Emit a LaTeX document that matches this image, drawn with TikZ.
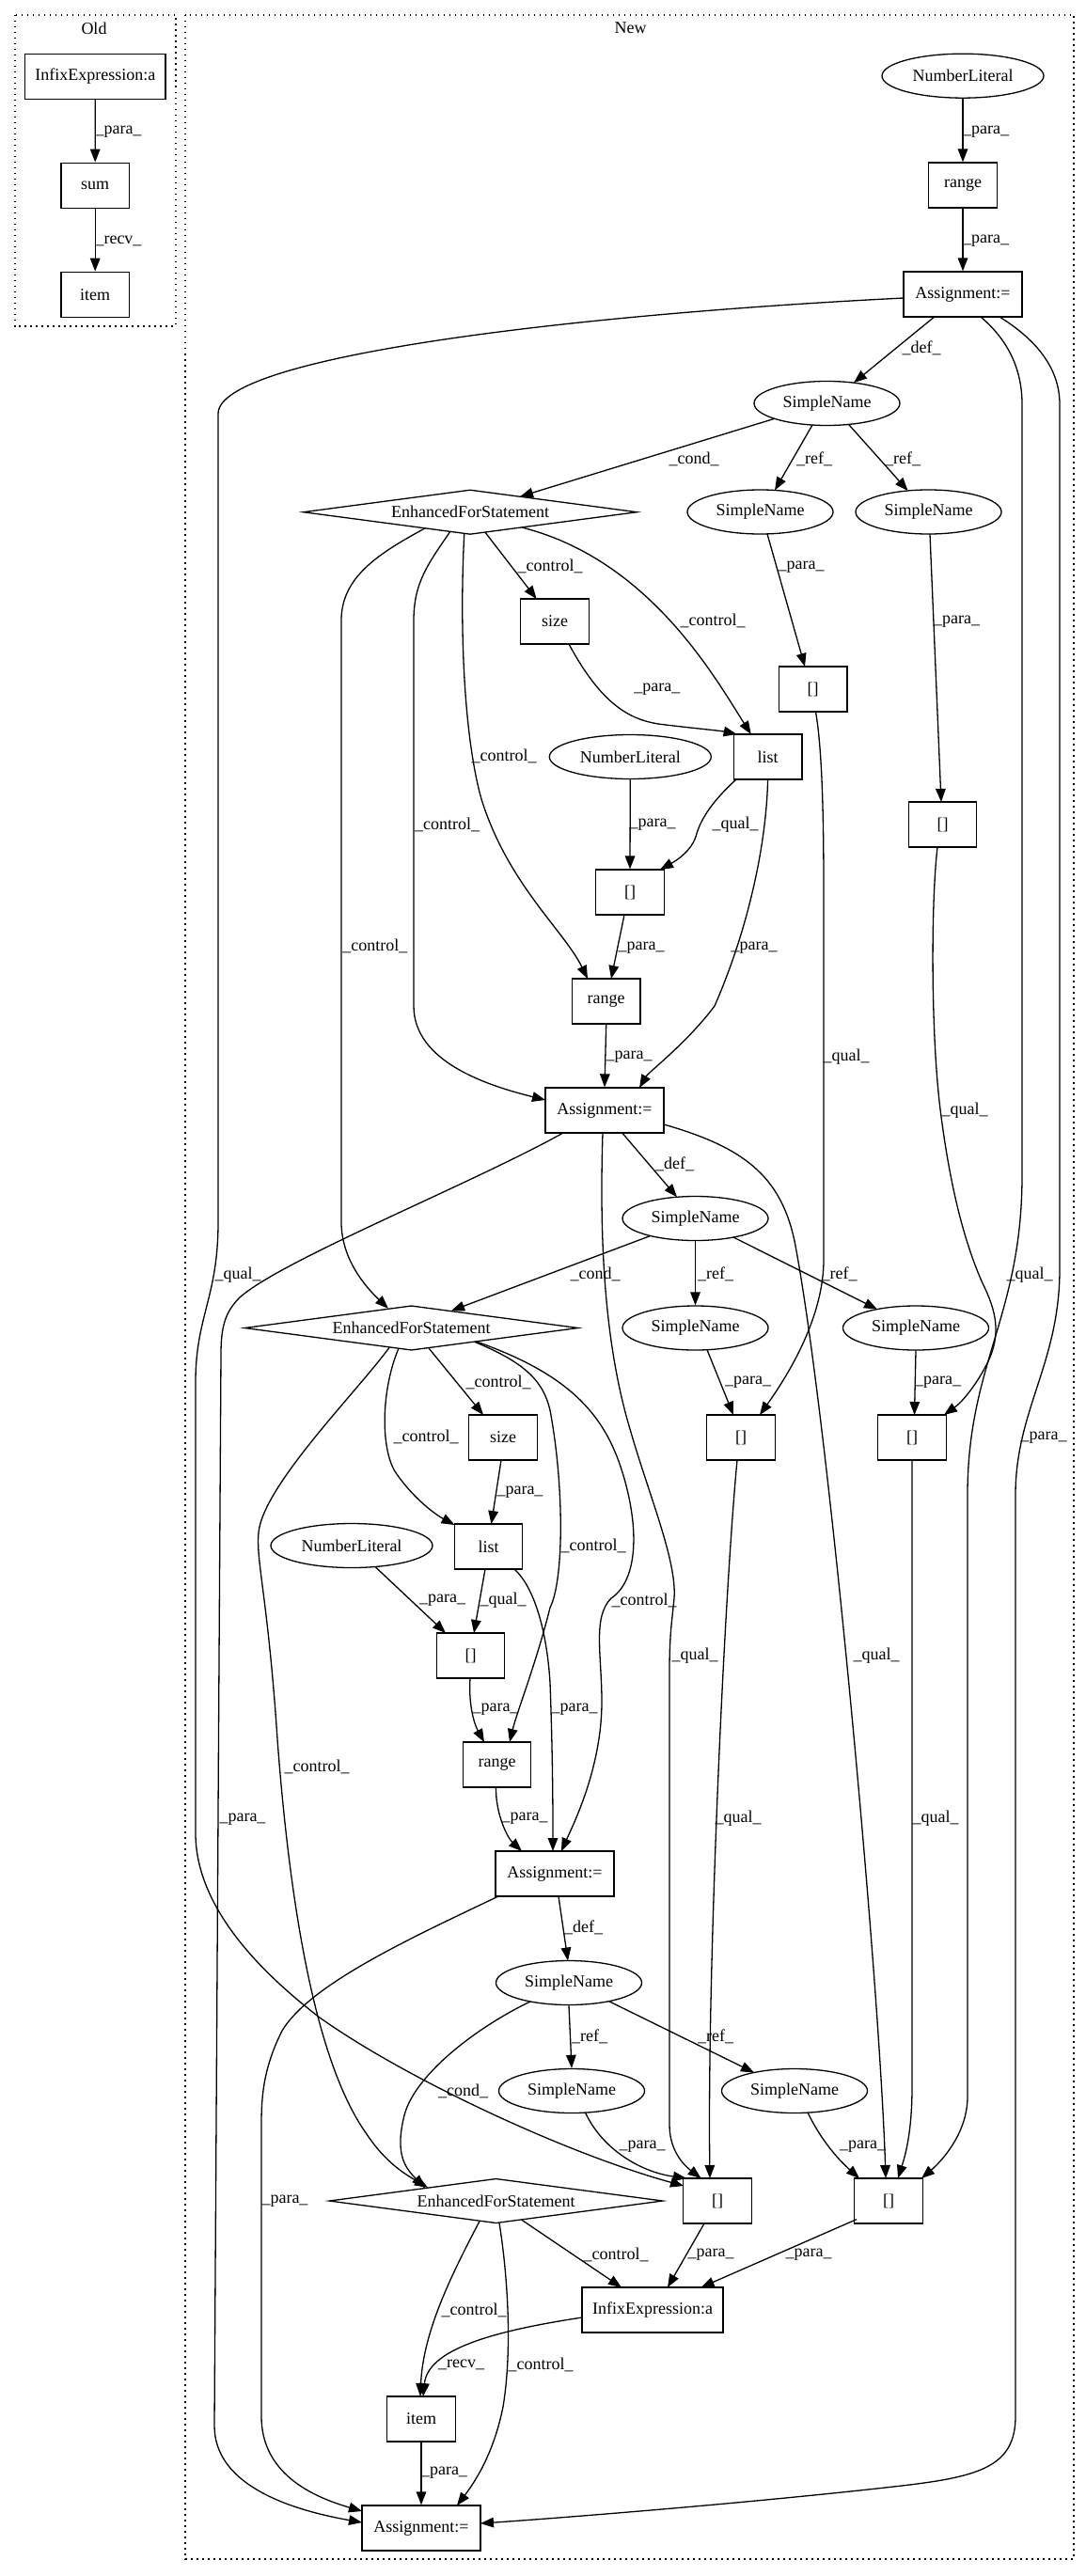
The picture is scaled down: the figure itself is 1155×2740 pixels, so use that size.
\documentclass[tikz,border=0pt]{standalone}
\usepackage{fontspec}
\setmainfont{Liberation Serif}
\usetikzlibrary{arrows.meta,shapes.geometric}
\begin{document}
\begin{tikzpicture}[x=0.5pt,y=-0.5pt,
  box/.style={draw, rectangle, line width=0.65pt, minimum width=36.25pt, minimum height=24pt, inner sep=0pt, font=\fontsize{9}{10}\selectfont},
  wbox/.style={box, minimum width=63pt},
  ell/.style={draw, ellipse, line width=0.65pt, minimum width=77.5pt, minimum height=23.5pt, inner sep=0pt, font=\fontsize{9}{10}\selectfont},
  nlit/.style={ell, minimum width=86pt},
  dia/.style={draw, diamond, line width=0.65pt, shape aspect=7.5, minimum width=177.5pt, minimum height=23.75pt, inner sep=0pt, font=\fontsize{9}{10}\selectfont},
  e/.style={draw, line width=0.65pt, -{Triangle[length=7pt,width=5.3pt]}},
  lab/.style={inner sep=0pt, font=\fontsize{9}{10}\selectfont},
  clus/.style={draw, line width=0.9pt, dash pattern=on 0.9pt off 2.1pt}]
\useasboundingbox (0,0) rectangle (1155,2740);
\fill[white] (0,0) rectangle (1155,2740);
% clusters
\draw[clus] (15.7,15.7) rectangle (186.7,347);
\node[lab] (told) at (100,30) {Old};
\draw[clus] (197.3,15.7) rectangle (1142,2722);
\node[lab] (tnew) at (670.6,30) {New};
% Old nodes
\node[box, minimum width=74.6pt] (OIX) at (101.3,81.2) {InfixExpression:a};
\node[box] (OSUM) at (101.2,197.2) {sum};
\node[box] (OIT) at (101.2,313.3) {item};
% New nodes
\node[nlit] (NL1) at (1024,80.7) {NumberLiteral};
\node[box] (R1) at (1024,197) {range};
\node[wbox] (A1) at (1024,313) {Assignment:=};
\node[ell] (SN1) at (879.5,429) {SimpleName};
\node[dia] (EFS1) at (500,544.7) {EnhancedForStatement};
\node[ell] (SN2) at (808.5,544.5) {SimpleName};
\node[ell] (SN3) at (987.5,544.5) {SimpleName};
\node[box] (SZ1) at (590,661) {size};
\node[box] (BA) at (864.7,733) {[]};
\node[box] (L1) at (816.6,805) {list};
\node[nlit] (NL2) at (670.3,805) {NumberLiteral};
\node[box] (BB) at (1002.5,877) {[]};
\node[box] (BC) at (670,949) {[]};
\node[box] (R2) at (644.7,1065) {range};
\node[wbox] (A2) at (643,1181) {Assignment:=};
\node[ell] (SN4) at (739.5,1296) {SimpleName};
\node[dia] (EFS2) at (437.5,1412.5) {EnhancedForStatement};
\node[ell] (SN5) at (739.5,1412.5) {SimpleName};
\node[ell] (SN6) at (974,1412.5) {SimpleName};
\node[box] (SZ2) at (535,1529) {size};
\node[box] (BD) at (788,1529) {[]};
\node[box] (BE) at (970,1529) {[]};
\node[box] (L2) at (519.5,1645) {list};
\node[nlit] (NL3) at (374,1644) {NumberLiteral};
\node[box] (BF) at (500.5,1761) {[]};
\node[box] (R3) at (528.5,1877) {range};
\node[wbox] (A3) at (590,1993) {Assignment:=};
\node[ell] (SN7) at (605,2109) {SimpleName};
\node[ell] (SN8) at (608,2224) {SimpleName};
\node[ell] (SN9) at (845,2224) {SimpleName};
\node[dia] (EFS3) at (527.5,2341) {EnhancedForStatement};
\node[box] (BG) at (763,2341) {[]};
\node[box] (BH) at (945,2341) {[]};
\node[box, minimum width=75pt] (IX) at (694,2457) {InfixExpression:a};
\node[box] (IT) at (448,2573) {item};
\node[wbox] (A4) at (448,2689) {Assignment:=};
% Old edges
\draw[e] (OIX.south) -- (OSUM.north);
\draw[e] (OSUM.south) -- (OIT.north);
\node[lab] (l1) at (126,140) {\_para\_};
\node[lab] (l2) at (126,256) {\_recv\_};
% New edges
\draw[e] (NL1.south) -- (R1.north);
\draw[e] (R1.south) -- (A1.north);
\draw[e] ([shift={(-30.25,24)}]A1.center) -- ([shift={(28.5,-21.9)}]SN1.center);
\draw[e] ([shift={(-63,4)}]A1.center) .. controls (600,335) and (232,380) .. (232,440) -- (232,1300) .. controls (232,1380) and (208,1400) .. (208,1470) -- (208,1950) .. controls (208,2030) and (280,2100) .. (340,2146) .. controls (430,2210) and (600,2290) .. ([shift={(-36,-16)}]BG.center);
\draw[e] ([shift={(19,24)}]A1.center) .. controls (1070,360) and (1087,390) .. (1087,430) -- (1087,1250) .. controls (1087,1400) and (1029,1450) .. (1029,1590) -- (1029,2230) .. controls (1029,2270) and (1000,2300) .. ([shift={(35,-24)}]BH.center);
\draw[e] ([shift={(39,24)}]A1.center) .. controls (1100,360) and (1127,390) .. (1127,430) -- (1127,1350) .. controls (1127,1450) and (1080,1500) .. (1080,1590) -- (1080,2570) .. controls (1080,2625) and (1040,2635) .. (950,2645) .. controls (800,2662) and (600,2678) .. ([shift={(63,-5)}]A4.center);
\draw[e] ([shift={(-55.75,16.3)}]SN1.center) -- ([shift={(53,-16.5)}]EFS1.center);
\draw[e] ([shift={(-15.5,23)}]SN1.center) -- ([shift={(15.5,-23)}]SN2.center);
\draw[e] ([shift={(23,22.4)}]SN1.center) -- ([shift={(-21.9,-22.5)}]SN3.center);
\draw[e] ([shift={(7.5,23.4)}]SN2.center) -- ([shift={(-8.7,-24)}]BA.center);
\draw[e] ([shift={(1.5,23.5)}]SN3.center) -- ([shift={(-1.5,-24)}]BB.center);
\draw[e] ([shift={(16,21.5)}]EFS1.center) -- ([shift={(-19.4,-24)}]SZ1.center);
\draw[e] ([shift={(55,16.3)}]EFS1.center) .. controls (690,595) and (760,720) .. ([shift={(-17.85,-24)}]L1.center);
\draw[e] ([shift={(-6.25,22.8)}]EFS1.center) .. controls (488,680) and (495,790) .. (512,850) .. controls (540,940) and (600,990) .. ([shift={(-19.7,-24)}]R2.center);
\draw[e] ([shift={(-21.25,20.8)}]EFS1.center) .. controls (455,600) and (440,620) .. (440,660) -- (440,1070) .. controls (440,1130) and (520,1155) .. ([shift={(-63,-11)}]A2.center);
\draw[e] ([shift={(-48,17.2)}]EFS1.center) .. controls (400,590) and (363,615) .. (363,660) -- (363,1300) .. controls (363,1340) and (390,1370) .. ([shift={(-24.5,-20.7)}]EFS2.center);
\draw[e] ([shift={(15,24)}]SZ1.center) .. controls (640,750) and (670,765) .. (700,770) .. controls (740,775) and (765,777) .. ([shift={(-33,-24)}]L1.center);
\draw[e] (NL2.south) -- (BC.north);
\draw[e] ([shift={(-33.6,24)}]L1.center) .. controls (760,850) and (745,870) .. (740,890) .. controls (735,905) and (720,915) .. ([shift={(32,-24)}]BC.center);
\draw[e] ([shift={(0,24)}]L1.center) .. controls (815,900) and (795,990) .. (760,1070) .. controls (730,1110) and (690,1140) .. ([shift={(37,-24)}]A2.center);
\draw[e] ([shift={(-6,24)}]BC.center) -- ([shift={(5.3,-24)}]R2.center);
\draw[e] (R2.south) -- (A2.north);
\draw[e] ([shift={(2.8,24)}]BA.center) .. controls (875,800) and (876,880) .. (876,950) -- (876,1340) .. controls (876,1400) and (840,1460) .. ([shift={(20,-24)}]BD.center);
\draw[e] ([shift={(-5.5,24)}]BB.center) .. controls (990,960) and (990,1100) .. (1000,1180) .. controls (1010,1260) and (1025,1320) .. (1045,1365) .. controls (1060,1395) and (1065,1420) .. (1050,1450) .. controls (1040,1470) and (1025,1490) .. ([shift={(34,-24)}]BE.center);
\draw[e] ([shift={(18.7,24)}]A2.center) -- ([shift={(-19.5,-22.7)}]SN4.center);
\draw[e] ([shift={(-2,24)}]A2.center) .. controls (638,1300) and (640,1420) .. (670,1520) .. controls (690,1590) and (720,1660) .. (717,1700) .. controls (714,1730) and (712,1740) .. (712,1780) -- (712,2260) .. controls (712,2290) and (730,2305) .. ([shift={(-17.4,-24)}]BG.center);
\draw[e] ([shift={(63,15)}]A2.center) .. controls (790,1220) and (830,1250) .. (845,1320) .. controls (880,1500) and (935,2100) .. ([shift={(-3,-24)}]BH.center);
\draw[e] ([shift={(-44,24)}]A2.center) .. controls (500,1260) and (300,1340) .. (255,1380) .. controls (240,1395) and (235,1410) .. (235,1440) -- (228,2580) .. controls (228,2640) and (300,2668) .. ([shift={(-63,-6)}]A4.center);
\draw[e] ([shift={(-47.8,18.5)}]SN4.center) -- ([shift={(42.5,-18.3)}]EFS2.center);
\draw[e] (SN4.south) -- (SN5.north);
\draw[e] ([shift={(40.5,20)}]SN4.center) -- ([shift={(-41,-19.9)}]SN6.center);
\draw[e] ([shift={(12.5,23.2)}]SN5.center) -- ([shift={(-8,-24)}]BD.center);
\draw[e] (SN6.south) -- ([shift={(2.5,-24)}]BE.center);
\draw[e] ([shift={(18.5,21.5)}]EFS2.center) -- ([shift={(-21,-24)}]SZ2.center);
\draw[e] ([shift={(-13.75,22.1)}]EFS2.center) .. controls (405,1480) and (405,1540) .. (420,1565) .. controls (440,1595) and (465,1612) .. ([shift={(-36,-23)}]L2.center);
\draw[e] ([shift={(67.5,14.9)}]EFS2.center) .. controls (560,1450) and (578,1470) .. (585,1500) .. controls (600,1580) and (600,1680) .. (585,1710) .. controls (570,1770) and (550,1820) .. ([shift={(13.5,-24)}]R3.center);
\draw[e] ([shift={(69.5,14.6)}]EFS2.center) .. controls (600,1460) and (640,1500) .. (660,1560) .. controls (680,1620) and (680,1680) .. (650,1700) .. controls (630,1720) and (640,1760) .. (640,1810) .. controls (640,1880) and (610,1940) .. ([shift={(7,-24)}]A3.center);
\draw[e] ([shift={(-23.5,20.8)}]EFS2.center) .. controls (380,1480) and (280,1580) .. (275,1630) .. controls (272,1660) and (285,1700) .. (295,1850) .. controls (310,2050) and (340,2200) .. (390,2270) .. controls (410,2300) and (430,2312) .. ([shift={(-72.5,-14.2)}]EFS3.center);
\draw[e] ([shift={(-2,24)}]SZ2.center) -- ([shift={(3,-24)}]L2.center);
\draw[e] ([shift={(25,22.5)}]NL3.center) -- ([shift={(-26.5,-24)}]BF.center);
\draw[e] ([shift={(-3.5,24)}]L2.center) -- ([shift={(3.5,-24)}]BF.center);
\draw[e] ([shift={(27.5,24)}]L2.center) .. controls (570,1690) and (582,1740) .. (585,1790) .. controls (588,1870) and (588,1930) .. ([shift={(-2,-24)}]A3.center);
\draw[e] ([shift={(-0.5,24)}]BF.center) .. controls (498,1815) and (505,1835) .. ([shift={(-13.5,-24)}]R3.center);
\draw[e] ([shift={(-1,24)}]R3.center) .. controls (527,1930) and (540,1955) .. ([shift={(-35,-24)}]A3.center);
\draw[e] ([shift={(-4,24)}]BD.center) .. controls (770,1700) and (752,2100) .. ([shift={(-8,-24)}]BG.center);
\draw[e] (BE.south) -- (970,2220) .. controls (970,2270) and (962,2295) .. ([shift={(10,-24)}]BH.center);
\draw[e] ([shift={(4,24)}]A3.center) -- ([shift={(-1,-23.5)}]SN7.center);
\draw[e] ([shift={(-60,24)}]A3.center) .. controls (440,2060) and (330,2110) .. (300,2160) .. controls (280,2200) and (278,2230) .. (278,2260) -- (278,2570) .. controls (278,2630) and (330,2655) .. ([shift={(-63,-18)}]A4.center);
\draw[e] ([shift={(-41,19.9)}]SN7.center) .. controls (500,2160) and (440,2210) .. (430,2250) .. controls (420,2290) and (430,2305) .. ([shift={(-75.5,-13.8)}]EFS3.center);
\draw[e] (SN7.south) -- (SN8.north);
\draw[e] ([shift={(42.5,19.6)}]SN7.center) -- ([shift={(-43,-19.5)}]SN9.center);
\draw[e] ([shift={(14.5,23)}]SN8.center) .. controls (640,2285) and (680,2310) .. ([shift={(-33,-24)}]BG.center);
\draw[e] ([shift={(14,23)}]SN9.center) .. controls (875,2280) and (895,2300) .. ([shift={(-31,-24)}]BH.center);
\draw[e] ([shift={(27.5,20.3)}]EFS3.center) -- ([shift={(-33,-24)}]IX.center);
\draw[e] ([shift={(-17.5,21.6)}]EFS3.center) .. controls (480,2420) and (450,2480) .. ([shift={(-1,-24)}]IT.center);
\draw[e] ([shift={(3.5,23.5)}]EFS3.center) .. controls (540,2420) and (545,2500) .. (535,2560) .. controls (525,2610) and (505,2640) .. ([shift={(38,-24)}]A4.center);
\draw[e] ([shift={(-14,24)}]BG.center) -- ([shift={(16,-24)}]IX.center);
\draw[e] ([shift={(-34,19.6)}]BH.center) -- ([shift={(51.6,-24)}]IX.center);
\draw[e] ([shift={(-75,8)}]IX.center) .. controls (520,2480) and (455,2500) .. ([shift={(2,-24)}]IT.center);
\draw[e] (IT.south) -- (A4.north);
% labels
\node[lab] (l3) at (1048.7,139.7) {\_para\_};
\node[lab] (l4) at (1048.7,256) {\_para\_};
\node[lab] (l5) at (980,370.5) {\_def\_};
\node[lab] (l6) at (253,1356) {\_qual\_};
\node[lab] (l7) at (1095,1356) {\_qual\_};
\node[lab] (l8) at (1110,1529.5) {\_para\_};
\node[lab] (l9) at (738,488) {\_cond\_};
\node[lab] (l10) at (866,488) {\_ref\_};
\node[lab] (l11) at (960,488) {\_ref\_};
\node[lab] (l12) at (852,603.6) {\_para\_};
\node[lab] (l13) at (1017.5,661.6) {\_para\_};
\node[lab] (l14) at (585,602.7) {\_control\_};
\node[lab] (l15) at (758,660.7) {\_control\_};
\node[lab] (l16) at (536,804.5) {\_control\_};
\node[lab] (l17) at (475.6,877) {\_control\_};
\node[lab] (l18) at (398.75,1006.7) {\_control\_};
\node[lab] (l19) at (698.75,733) {\_para\_};
\node[lab] (l20) at (694,877) {\_para\_};
\node[lab] (l21) at (782,877) {\_qual\_};
\node[lab] (l22) at (802,1008) {\_para\_};
\node[lab] (l23) at (682,1008) {\_para\_};
\node[lab] (l24) at (669,1123.7) {\_para\_};
\node[lab] (l25) at (900,1123.7) {\_qual\_};
\node[lab] (l26) at (1026,1180.8) {\_qual\_};
\node[lab] (l27) at (717.5,1238) {\_def\_};
\node[lab] (l28) at (739,1760.7) {\_qual\_};
\node[lab] (l29) at (932,1760.7) {\_qual\_};
\node[lab] (l30) at (258,1935) {\_para\_};
\node[lab] (l31) at (633,1355) {\_cond\_};
\node[lab] (l32) at (761,1355) {\_ref\_};
\node[lab] (l33) at (892.5,1355) {\_ref\_};
\node[lab] (l34) at (795.6,1470) {\_para\_};
\node[lab] (l35) at (997.5,1470) {\_para\_};
\node[lab] (l36) at (530,1470) {\_control\_};
\node[lab] (l37) at (453,1528.6) {\_control\_};
\node[lab] (l38) at (631,1644) {\_control\_};
\node[lab] (l39) at (685,1702.6) {\_control\_};
\node[lab] (l40) at (337,1879) {\_control\_};
\node[lab] (l41) at (553,1586.7) {\_para\_};
\node[lab] (l42) at (470.6,1702.6) {\_para\_};
\node[lab] (l43) at (535,1702.6) {\_qual\_};
\node[lab] (l44) at (611,1818) {\_para\_};
\node[lab] (l45) at (527,1818) {\_para\_};
\node[lab] (l46) at (558,1934) {\_para\_};
\node[lab] (l47) at (785,1934) {\_qual\_};
\node[lab] (l48) at (995,1934) {\_qual\_};
\node[lab] (l49) at (620.6,2050) {\_def\_};
\node[lab] (l50) at (303,2341) {\_para\_};
\node[lab] (l51) at (492.5,2224) {\_cond\_};
\node[lab] (l52) at (627,2166) {\_ref\_};
\node[lab] (l53) at (761,2166) {\_ref\_};
\node[lab] (l54) at (683,2283) {\_para\_};
\node[lab] (l55) at (917.5,2283) {\_para\_};
\node[lab] (l56) at (655,2398) {\_control\_};
\node[lab] (l57) at (504,2457) {\_control\_};
\node[lab] (l58) at (575,2515) {\_control\_};
\node[lab] (l59) at (756,2398) {\_para\_};
\node[lab] (l60) at (860,2398) {\_para\_};
\node[lab] (l61) at (490.6,2515) {\_recv\_};
\node[lab] (l62) at (472.5,2630) {\_para\_};
\end{tikzpicture}
\end{document}
